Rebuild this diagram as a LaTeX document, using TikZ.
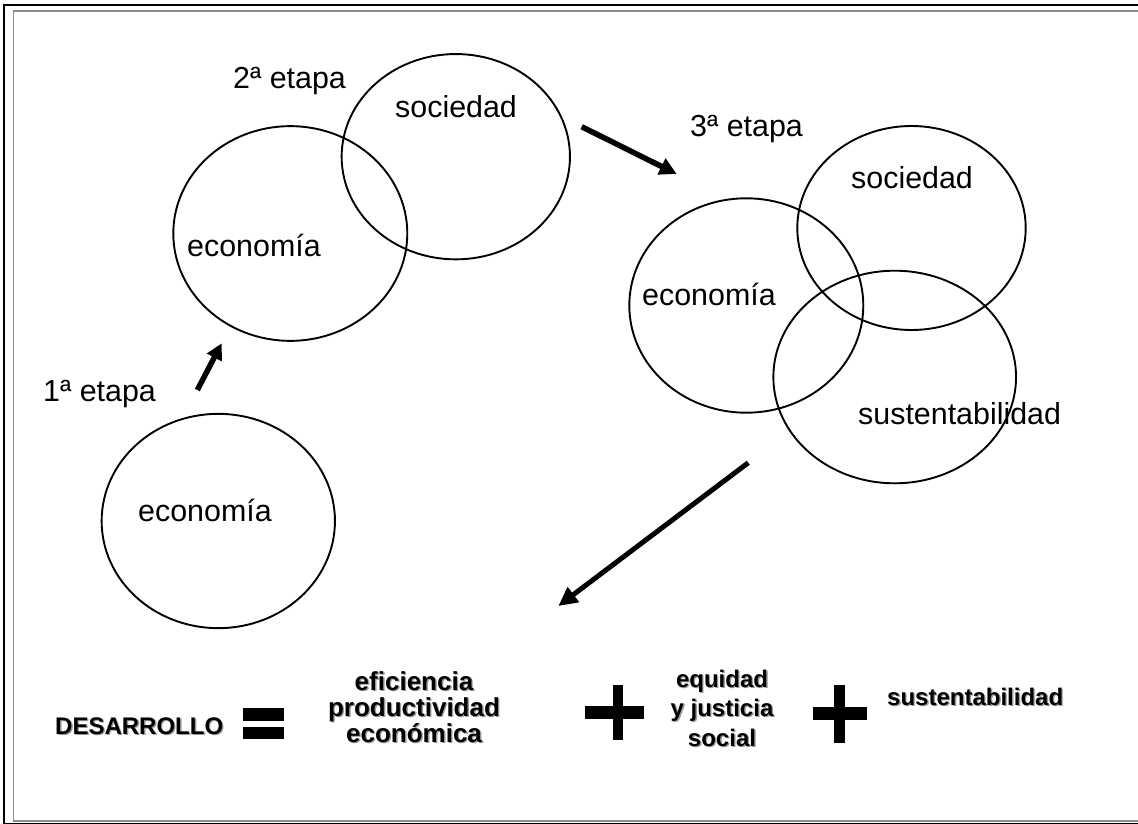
\documentclass[tikz,border=0pt]{standalone}
\usepackage{fontspec}
\setmainfont{Liberation Sans}
\usetikzlibrary{shapes.geometric,arrows.meta}
\newcommand\shtext[1]{\leavevmode\rlap{\raisebox{-1.4pt}{\kern1.4pt\textcolor{black!40}{#1}}}#1}
\tikzset{
  ring/.style={draw=black, line width=1.9pt, ellipse, inner sep=0pt},
  lbl/.style={anchor=base west, inner sep=0pt, font=\fontsize{30.4}{36}\selectfont},
  boldlbl/.style={inner sep=0pt, align=center, font=\fontsize{24}{28}\bfseries\selectfont},
  signbar/.style={fill=black}
}
\begin{document}
\begin{tikzpicture}[x=1pt,y=-1pt]
\useasboundingbox (0,0) rectangle (1138,824);
\begin{scope}
\clip (0,0) rectangle (1138,824);
\draw[black, line width=1.6pt] (1150,5) -- (4,5) -- (4,823.3) -- (1150,823.3);
\draw[black!45, line width=1.8pt] (1150,10.7) -- (13.5,10.7) -- (13.5,821.3) -- (1150,821.3);
\end{scope}

% ellipses
\node[ring, minimum width=233.3pt, minimum height=214.3pt] (c1) at (218.3,521) {};
\node[ring, minimum width=234pt, minimum height=214.7pt] (c2) at (290.3,233.5) {};
\node[ring, minimum width=228.3pt, minimum height=205.3pt] (c3) at (455.8,156.7) {};
\node[ring, minimum width=234pt, minimum height=214.4pt] (c4) at (746.3,305.5) {};
\node[ring, minimum width=228.4pt, minimum height=204pt] (c5) at (911.5,228) {};
\node[ring, minimum width=242.7pt, minimum height=212.6pt] (c6) at (894.7,377) {};

% labels
\node[lbl] (t2) at (233,89) {2ª etapa};
\node[lbl] (s2) at (395,118) {sociedad};
\node[lbl] (e2) at (187,256) {economía};
\node[lbl] (t1) at (43,401) {1ª etapa};
\node[lbl] (e1) at (138,521) {economía};
\node[lbl] (t3) at (690,137) {3ª etapa};
\node[lbl] (s3) at (851,189) {sociedad};
\node[lbl] (e3) at (642,305) {economía};
\node[lbl] (u3) at (858,424) {sustentabilidad};

% arrows
\coordinate (a1s) at (197.3,390);
\coordinate (a1e) at (221.7,343.3);
\coordinate (a2s) at (581.7,126.7);
\coordinate (a2e) at (676.7,174);
\coordinate (a3s) at (748.3,462.7);
\coordinate (a3e) at (558.3,606);
\draw[line width=5.5pt, -{Triangle[length=16pt,width=16pt]}] (a1s) -- (a1e);
\draw[line width=5.5pt, -{Triangle[length=17pt,width=17pt]}] (a2s) -- (a2e);
\draw[line width=5pt, -{Triangle[length=19pt,width=18pt]}] (a3s) -- (a3e);

% equation
\node[boldlbl, anchor=base west] (des) at (55,734) {\shtext{DESARROLLO}};
\fill[signbar] (243.3,708.3) rectangle (284,720.7);
\fill[signbar] (243.3,727.3) rectangle (284,739.3);
\node[boldlbl, font=\fontsize{26}{26}\bfseries\selectfont, anchor=base] (efi) at (414,742)
  {\shtext{eficiencia}\\\shtext{productividad}\\\shtext{económica}};
\fill[signbar] (585,706) rectangle (644,719);
\fill[signbar] (612.7,685) rectangle (623.3,740);
\node[boldlbl, font=\fontsize{24}{29.5}\bfseries\selectfont, anchor=base] (equ) at (722,746)
  {\shtext{equidad}\\\shtext{y justicia}\\\shtext{social}};
\fill[signbar] (813,707) rectangle (867,720);
\fill[signbar] (834,685) rectangle (845,743);
\node[boldlbl, anchor=base west] (sus) at (887,705) {\shtext{sustentabilidad}};
\end{tikzpicture}
\end{document}
